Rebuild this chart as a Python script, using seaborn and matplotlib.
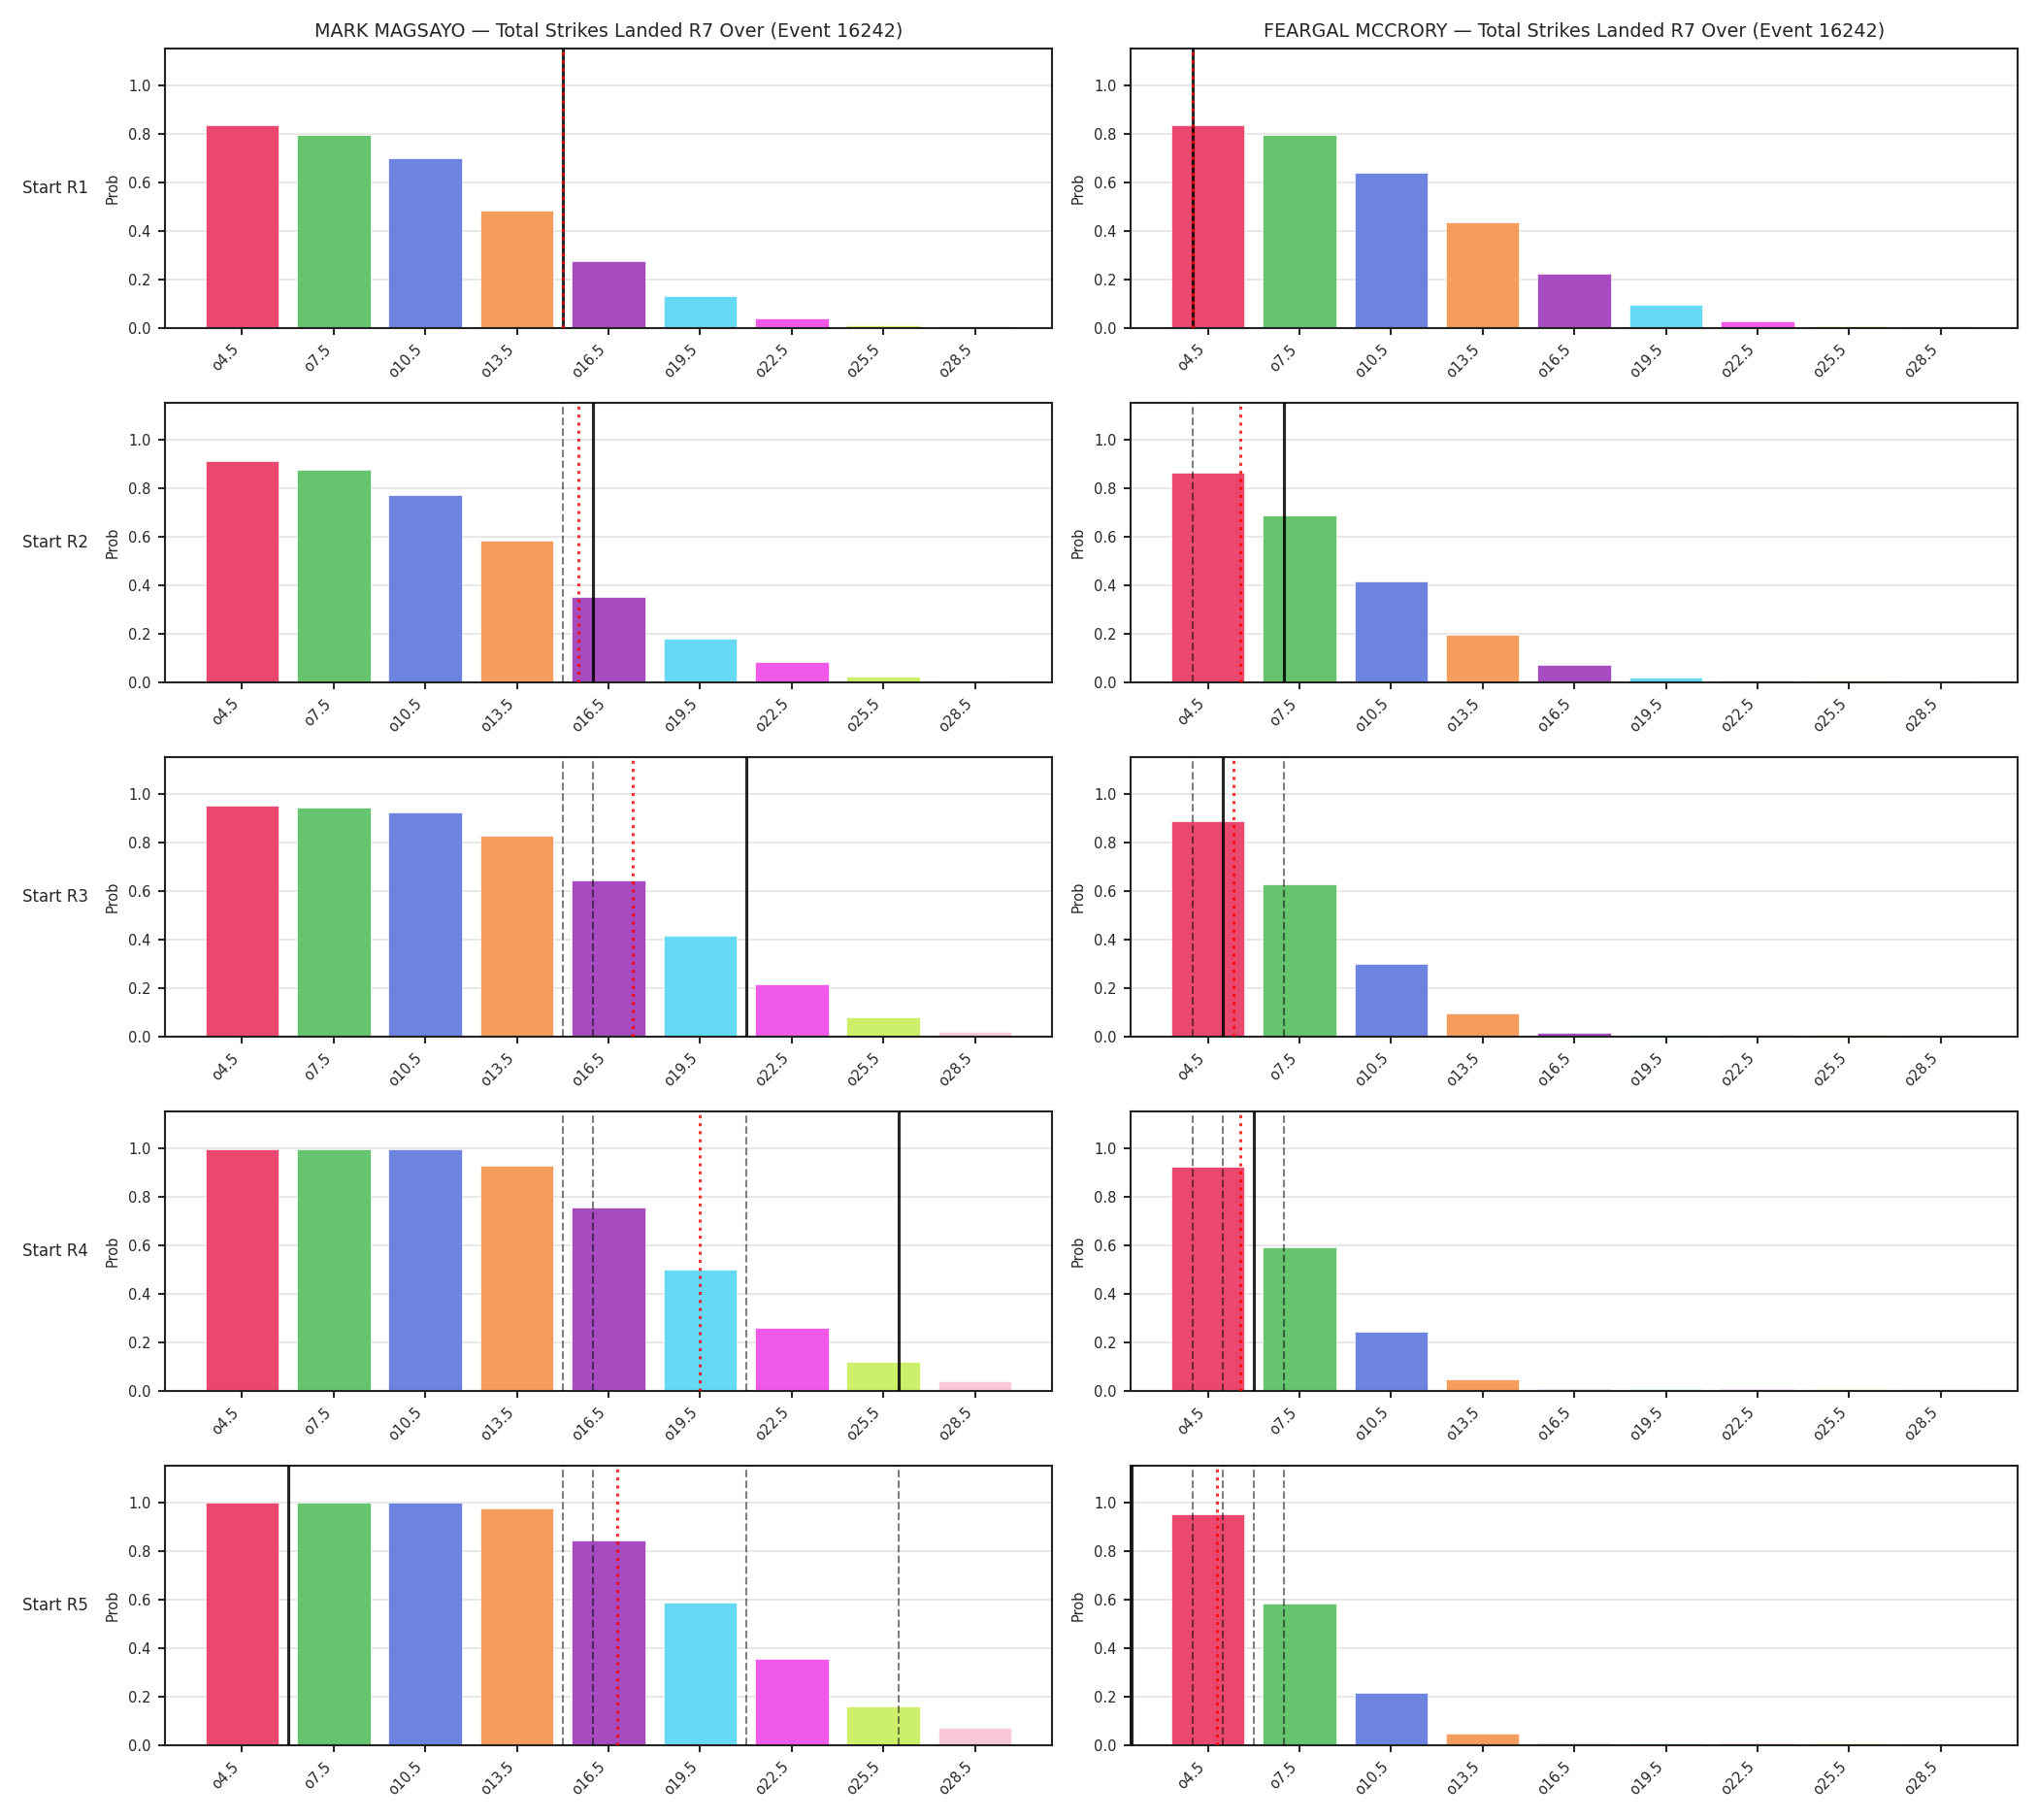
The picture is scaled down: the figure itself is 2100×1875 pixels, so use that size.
import matplotlib
matplotlib.use("Agg")
import matplotlib.pyplot as plt
import seaborn as sns
import numpy as np

# ---------------- data ----------------
categories = ["o4.5", "o7.5", "o10.5", "o13.5", "o16.5", "o19.5", "o22.5", "o25.5", "o28.5"]
thresholds = [4.5, 7.5, 10.5, 13.5, 16.5, 19.5, 22.5, 25.5, 28.5]
row_labels = ["Start R1", "Start R2", "Start R3", "Start R4", "Start R5"]
fighters = ["MARK MAGSAYO", "FEARGAL MCCRORY"]
title_suffix = "Total Strikes Landed R7 Over (Event 16242)"

magsayo_r1 = [0.834, 0.793, 0.697, 0.484, 0.275, 0.131, 0.039, 0.012, 0.005]
magsayo_r2 = [0.912, 0.876, 0.769, 0.583, 0.351, 0.179, 0.083, 0.023, 0.007]
magsayo_r3 = [0.952, 0.944, 0.924, 0.828, 0.644, 0.415, 0.215, 0.079, 0.019]
magsayo_r4 = [0.996, 0.996, 0.996, 0.928, 0.756, 0.498, 0.259, 0.119, 0.039]
magsayo_r5 = [0.997, 0.997, 0.997, 0.973, 0.841, 0.588, 0.356, 0.159, 0.071]

mccrory_r1 = [0.834, 0.793, 0.640, 0.436, 0.223, 0.095, 0.027, 0.007, 0.005]
mccrory_r2 = [0.864, 0.688, 0.415, 0.195, 0.071, 0.019, 0.006, 0.005, 0.005]
mccrory_r3 = [0.885, 0.628, 0.300, 0.096, 0.015, 0.006, 0.006, 0.005, 0.005]
mccrory_r4 = [0.921, 0.591, 0.244, 0.047, 0.007, 0.006, 0.006, 0.005, 0.005]
mccrory_r5 = [0.949, 0.584, 0.215, 0.047, 0.007, 0.006, 0.006, 0.005, 0.005]

# strike-count markers (in strikes)
magsayo_current = [15, 16, 21, 26, 6]          # solid line per row
magsayo_mean = [15.0, 15.5, 17.3, 19.5, 16.8]  # red dotted
mccrory_current = [4, 7, 5, 6, 2]
mccrory_mean = [4.0, 5.55, 5.35, 5.55, 4.8]

bar_colors = ["#EB4870", "#66C46F", "#6C84E0", "#F59D5C", "#A64BC0",
              "#66DAF5", "#F159E9", "#CCF06A", "#F9C8D8"]

magsayo = [magsayo_r1, magsayo_r2, magsayo_r3, magsayo_r4, magsayo_r5]
mccrory = [mccrory_r1, mccrory_r2, mccrory_r3, mccrory_r4, mccrory_r5]
all_vals = [magsayo, mccrory]
all_current = [magsayo_current, mccrory_current]
all_mean = [magsayo_mean, mccrory_mean]


def to_cat(v):
    # map strike count onto the categorical (threshold) axis
    return (v - thresholds[0]) / (thresholds[1] - thresholds[0])


sns.set_theme(style="ticks", rc={
    "axes.linewidth": 1.0,
    "axes.edgecolor": "#222222",
    "xtick.major.size": 3.5,
    "ytick.major.size": 3.5,
    "xtick.major.width": 1.0,
    "ytick.major.width": 1.0,
    "xtick.labelsize": 7,
    "ytick.labelsize": 7,
    "axes.labelsize": 7,
    "axes.titlesize": 9.2,
})
plt.rcParams["font.family"] = ["DejaVu Sans"]

fig, axes = plt.subplots(5, 2, figsize=(14, 12.5), dpi=150)
fig.subplots_adjust(left=0.081, right=0.990, top=0.9733, bottom=0.0412,
                    wspace=0.089, hspace=0.269)

for c in range(2):
    for r in range(5):
        ax = axes[r, c]
        vals = all_vals[c][r]
        sns.barplot(x=categories, y=vals, hue=categories, palette=bar_colors,
                    saturation=1, legend=False, ax=ax, width=0.8,
                    edgecolor="white", linewidth=0.3, zorder=2)
        ax.set_xlim(-0.84, 8.84)
        ax.set_ylim(0, 1.15)
        ax.set_yticks([0.0, 0.2, 0.4, 0.6, 0.8, 1.0])
        ax.yaxis.grid(True, color="#e4e4e4", linewidth=0.8, zorder=0)
        ax.set_axisbelow(True)
        ax.set_ylabel("Prob")
        ax.set_xlabel("")
        plt.setp(ax.get_xticklabels(), rotation=45, ha="right")
        # previous rounds' markers
        for prev in all_current[c][:r]:
            ax.axvline(to_cat(prev), color="black", alpha=0.5, lw=1.0,
                       linestyle="--", zorder=3)
        ax.axvline(to_cat(all_current[c][r]), color="black", alpha=0.85,
                   lw=1.5, zorder=4)
        ax.axvline(to_cat(all_mean[c][r]), color="red", alpha=0.8,
                   lw=1.5, linestyle=":", zorder=5)
        for s in ax.spines.values():
            s.set_visible(True)
        if r == 0:
            ax.set_title(f"{fighters[c]} \u2014 {title_suffix}", pad=6)
        if c == 0:
            ax.text(-0.161, 0.5, row_labels[r], transform=ax.transAxes,
                    ha="left", va="center", fontsize=8)

fig.savefig("out.png", dpi=150)
